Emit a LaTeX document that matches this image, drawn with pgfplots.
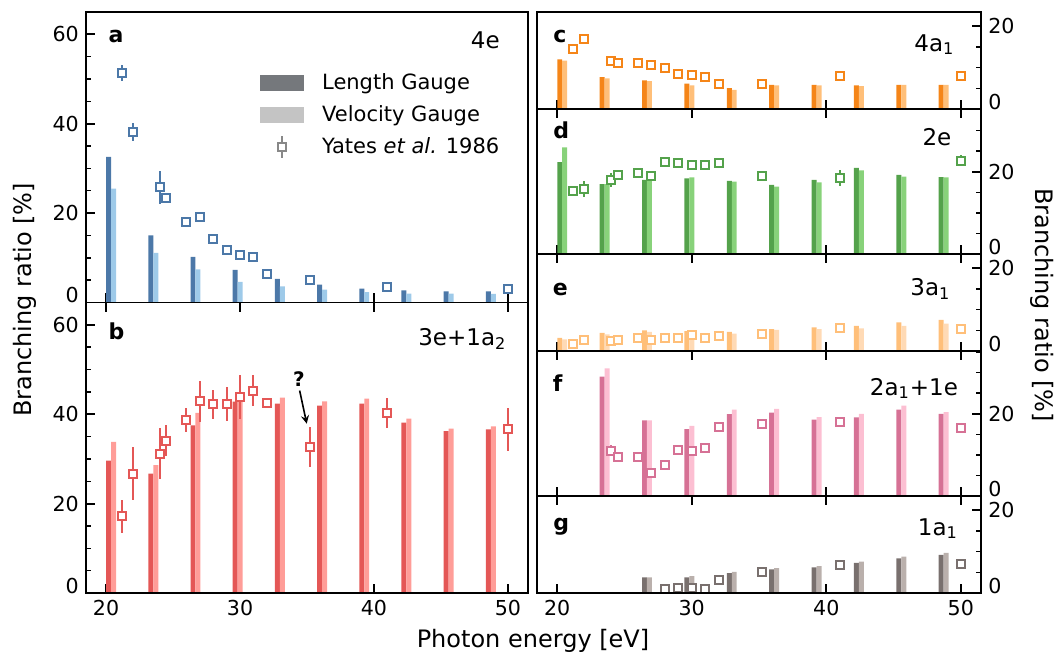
\documentclass[border=0pt]{standalone}
\usepackage{fontspec}
\setmainfont{DejaVu Sans}
\usepackage{pgfplots}
\usepackage{pgfplotstable}
\pgfplotsset{compat=1.18}
\definecolor{aD}{HTML}{4C78A8}\definecolor{aL}{HTML}{9ECAE9}
\definecolor{bD}{HTML}{E45756}\definecolor{bL}{HTML}{FF9D98}
\definecolor{cD}{HTML}{F58518}\definecolor{cL}{HTML}{FFBF79}
\definecolor{dD}{HTML}{54A24B}\definecolor{dL}{HTML}{88D27A}
\definecolor{eD}{HTML}{FFBF79}\definecolor{eL}{HTML}{FFDAB5}
\definecolor{fD}{HTML}{D67195}\definecolor{fL}{HTML}{FCBFD2}
\definecolor{gD}{HTML}{79706E}\definecolor{gL}{HTML}{BAB0AC}
\definecolor{lgD}{HTML}{75787C}\definecolor{lgL}{HTML}{C4C4C4}\definecolor{lgM}{HTML}{888888}

% Yates et al. 1986 data: x, y, error
\pgfplotstableread{
x y e
21.2 51.3 1.8
22 38.1 2.0
24 25.8 3.7
24.5 23.4 0.3
26 17.9 0.3
27 19.2 0.3
28 14.3 0.3
29 11.8 0.3
30 10.7 0.3
31 10.2 0.3
32 6.3 0.3
35.2 5.1 0.3
41 3.5 0.3
50 3.1 0.3
}\tA
\pgfplotstableread{
x y e
21.2 17.2 3.7
22 26.7 6.0
24 31.2 5.8
24.5 34.1 3.5
26 38.8 2.7
27 42.9 4.6
28 42.2 3.2
29 42.3 3.9
30 43.9 4.9
31 45.3 3.4
32 42.5 0.4
35.2 32.6 4.5
41 40.3 3.4
50 36.6 4.9
}\tB
\pgfplotstableread{
x y e
21.2 14.4 0.3
22 16.9 0.3
24 11.5 0.3
24.5 11.1 0.3
26 11.1 0.3
27 10.7 0.3
28 9.9 0.3
29 8.4 0.3
30 8.3 0.3
31 7.7 0.3
32 6.0 0.3
35.2 6.1 0.3
41 7.9 0.3
50 8.0 0.3
}\tC
\pgfplotstableread{
x y e
21.2 15.4 0.8
22 15.8 2.0
24 18.1 1.7
24.5 19.3 0.5
26 19.7 0.3
27 19.0 0.3
28 22.4 0.3
29 22.1 0.3
30 21.7 0.3
31 21.5 0.3
32 22.0 0.3
35.2 18.9 0.3
41 18.5 2.0
50 22.7 1.3
}\tD
\pgfplotstableread{
x y e
21.2 1.8 0.3
22 2.6 0.3
24 2.4 0.3
24.5 2.7 0.3
26 3.1 0.3
27 2.6 0.3
28 3.1 0.3
29 3.1 0.3
30 3.8 0.3
31 3.1 0.3
32 3.6 0.3
35.2 4.0 0.3
41 5.5 0.3
50 5.3 0.3
}\tE
\pgfplotstableread{
x y e
24 11.1 1.3
24.5 9.5 0.5
26 9.5 1.0
27 5.7 0.3
28 7.7 0.3
29 11.3 0.3
30 11.0 0.3
31 11.7 0.3
32 16.8 0.3
35.2 17.6 0.3
41 18.0 0.3
50 16.6 0.3
}\tF
\pgfplotstableread{
x y e
28 0.9 0.3
29 1.3 0.3
30 1.1 0.3
31 1.0 0.3
32 3.1 0.3
35.2 5.0 0.3
41 6.7 0.3
50 7.0 0.3
}\tG

\tikzset{
  plet/.style={anchor=base west, inner sep=0pt, font=\bfseries\fontsize{11}{13}\selectfont},
  ptit/.style={anchor=base east, inner sep=0pt, font=\fontsize{11.5}{13}\selectfont},
}
\pgfplotsset{
  panel/.style={scale only axis, anchor=south west, xmin=18.5, xmax=51.5, ymin=0, clip=false,
    xtick={20,30,40,50}, xticklabels={}, tick align=inside,
    axis line style={line width=0.9pt}, major tick length=4.5pt, minor tick length=2.5pt,
    major tick style={black, line width=0.9pt}, minor tick style={black, line width=0.7pt},
    tick label style={font=\fontsize{10.3}{12}\selectfont},
    /pgf/number format/assume math mode=true, xtick pos=both,
    extra y ticks={0}, extra y tick style={yticklabel style={yshift=3.6pt}}},
  leftp/.style={panel, width=221pt, height=145.25pt, ymax=65, ytick={20,40,60},
    minor ytick={5,10,15,25,30,35,45,50,55}, ytick pos=left},
  rightp/.style={panel, width=222pt, ytick={20}, minor ytick={5,10,15,25,30,35},
    ytick pos=right, yticklabel pos=right},
  shortp/.style={rightp, height=48.35pt, ymax=23.4},
  tallp/.style={rightp, height=72.7pt, ymax=35.2},
  bars/.style={ybar, bar width=0.37, bar shift=0pt, draw=none, fill=#1, forget plot},
  yterr/.style={forget plot, only marks, mark=none,
    error bars/.cd, y dir=both, y explicit, error mark=none,
    error bar style={draw=#1, line width=1pt}},
  ytm/.style={forget plot, only marks, mark=square*, mark size=2pt,
    mark options={fill=white, draw=#1, line width=1pt, solid}},
  minorx/.style={scale only axis, anchor=south west, xmin=18.5, xmax=51.5, ymin=0, ymax=1,
    axis x line*=bottom, axis y line=none, x axis line style={-, line width=0.9pt}, xtick=\empty,
    minor xtick={22,24,26,28,32,34,36,38,42,44,46,48}, tick align=inside,
    minor tick length=2.5pt, minor tick style={black, line width=0.7pt}},
  bottomlab/.style={xticklabels={20,30,40,50}, xticklabel pos=lower},
}
\newcommand\yates[2]{%
  \addplot[yterr=#2] table[x=x, y=y, y error=e] {#1};
  \addplot[ytm=#2] table[x=x, y=y] {#1};}
\begin{document}
\fontsize{10.3pt}{12pt}\selectfont
\begin{tikzpicture}
\path[use as bounding box] (0,0) rectangle (529.5pt,328.5pt);

% ---------------- panel a
\begin{axis}[leftp, at={(43pt,177.25pt)}, xtick pos=lower,
  legend style={draw=none, fill=none, at={(0.38,0.817)}, anchor=north west, row sep=2.5pt,
    font=\fontsize{10.5}{12}\selectfont, /tikz/every odd column/.style={column sep=7pt}},
  legend cell align=left]
\addlegendimage{legend image code/.code={\fill[lgD] (0pt,-3.75pt) rectangle (21.5pt,3.75pt);}}
\addlegendentry{Length Gauge}
\addlegendimage{legend image code/.code={\fill[lgL] (0pt,-3.75pt) rectangle (21.5pt,3.75pt);}}
\addlegendentry{Velocity Gauge}
\addlegendimage{legend image code/.code={\draw[lgM, line width=1pt] (10.75pt,-5.4pt) -- (10.75pt,5.4pt); \draw[lgM, line width=1pt, fill=white] (8.75pt,-2pt) rectangle (12.75pt,2pt);}}
\addlegendentry{Yates \textit{et al.} 1986}
\addplot[bars=aD] coordinates {(20.19,32.6) (23.34,15.0) (26.49,10.2) (29.64,7.3) (32.79,5.3) (35.94,4.0) (39.09,3.1) (42.24,2.7) (45.39,2.5) (48.54,2.5)};
\addplot[bars=aL] coordinates {(20.56,25.5) (23.71,11.1) (26.86,7.4) (30.01,4.6) (33.16,3.6) (36.31,2.9) (39.46,2.3) (42.61,2.0) (45.76,2.0) (48.91,1.9)};
\yates{\tA}{aD}
\node[plet] at (rel axis cs:0.05,0.894) {a};
\node[ptit] at (rel axis cs:0.937,0.875) {4e};
\end{axis}

% ---------------- panel b
\begin{axis}[leftp, at={(43pt,32pt)}, bottomlab]
\addplot[bars=bD] coordinates {(20.19,29.6) (23.34,26.7) (26.49,37.5) (29.64,42.8) (32.79,42.4) (35.94,41.9) (39.09,42.4) (42.24,38.1) (45.39,36.2) (48.54,36.6)};
\addplot[bars=bL] coordinates {(20.56,33.8) (23.71,28.6) (26.86,40.3) (30.01,43.2) (33.16,43.7) (36.31,42.9) (39.46,43.5) (42.61,39.0) (45.76,36.8) (48.91,37.3)};
\yates{\tB}{bD}
\node[plet] at (rel axis cs:0.05,0.872) {b};
\node[ptit] at (rel axis cs:0.952,0.852) {3e+1a\textsubscript{2}};
\node[font=\bfseries\fontsize{10}{12}\selectfont] at (axis cs:34.4,47.9) {?};
\draw[-stealth, line width=0.8pt] (axis cs:34.45,45.3) -- (axis cs:34.98,37.9);
\end{axis}
\begin{axis}[minorx, width=221pt, height=145.25pt, at={(43pt,32pt)}]
\addplot[draw=none] coordinates {(20,0.5)};
\end{axis}

% ---------------- panel c
\begin{axis}[shortp, at={(268.5pt,274.05pt)}, xtick pos=lower]
\addplot[bars=cD] coordinates {(20.19,12.0) (23.34,7.7) (26.49,6.9) (29.64,6.1) (32.79,5.0) (35.94,5.8) (39.09,5.8) (42.24,5.7) (45.39,5.8) (48.54,5.8)};
\addplot[bars=cL] coordinates {(20.56,11.7) (23.71,7.4) (26.86,6.7) (30.01,5.7) (33.16,4.6) (36.31,5.7) (39.46,5.7) (42.61,5.5) (45.76,5.8) (48.91,5.8)};
\yates{\tC}{cD}
\node[plet] at (rel axis cs:0.036,0.687) {c};
\node[ptit] at (rel axis cs:0.941,0.597) {4a\textsubscript{1}};
\end{axis}

% ---------------- panel d
\begin{axis}[tallp, at={(268.5pt,201.35pt)}]
\addplot[bars=dD] coordinates {(20.19,22.3) (23.34,17.0) (26.49,18.0) (29.64,18.4) (32.79,17.8) (35.94,16.8) (39.09,18.0) (42.24,20.9) (45.39,19.2) (48.54,18.7)};
\addplot[bars=dL] coordinates {(20.56,25.9) (23.71,17.0) (26.86,17.9) (30.01,18.6) (33.16,17.6) (36.31,16.4) (39.46,17.4) (42.61,20.3) (45.76,18.8) (48.91,18.6)};
\yates{\tD}{dD}
\node[plet] at (rel axis cs:0.036,0.796) {d};
\node[ptit] at (rel axis cs:0.934,0.75) {2e};
\end{axis}

% ---------------- panel e
\begin{axis}[shortp, at={(268.5pt,153pt)}]
\addplot[bars=eD] coordinates {(20.19,3.2) (23.34,4.4) (26.49,5.0) (29.64,4.8) (32.79,4.6) (35.94,5.3) (39.09,5.7) (42.24,6.1) (45.39,6.9) (48.54,7.5)};
\addplot[bars=eL] coordinates {(20.56,2.8) (23.71,4.0) (26.86,4.6) (30.01,4.6) (33.16,4.2) (36.31,5.1) (39.46,5.3) (42.61,5.5) (45.76,6.1) (48.91,6.6)};
\yates{\tE}{eD}
\node[plet] at (rel axis cs:0.035,0.571) {e};
\node[ptit] at (rel axis cs:0.932,0.571) {3a\textsubscript{1}};
\end{axis}

% ---------------- panel f
\begin{axis}[tallp, at={(268.5pt,80.3pt)}]
\addplot[bars=fD] coordinates {(23.34,29.0) (26.49,18.4) (29.64,16.3) (32.79,19.9) (35.94,20.3) (39.09,18.6) (42.24,19.1) (45.39,21.0) (48.54,20.0)};
\addplot[bars=fL] coordinates {(23.71,31.0) (26.86,18.4) (30.01,17.1) (33.16,21.0) (36.31,21.2) (39.46,19.2) (42.61,20.0) (45.76,22.0) (48.91,20.4)};
\yates{\tF}{fD}
\node[plet] at (rel axis cs:0.035,0.721) {f};
\node[ptit] at (rel axis cs:0.949,0.697) {2a\textsubscript{1}+1e};
\end{axis}

% ---------------- panel g
\begin{axis}[shortp, at={(268.5pt,32pt)}, bottomlab]
\addplot[bars=gD] coordinates {(26.49,3.8) (29.64,3.8) (32.79,4.8) (35.94,5.7) (39.09,6.2) (42.24,7.3) (45.39,8.4) (48.54,9.2)};
\addplot[bars=gL] coordinates {(26.86,3.8) (30.01,4.1) (33.16,5.1) (36.31,6.0) (39.46,6.5) (42.61,7.6) (45.76,8.8) (48.91,9.7)};
\yates{\tG}{gD}
\node[plet] at (rel axis cs:0.036,0.65) {g};
\node[ptit] at (rel axis cs:0.949,0.598) {1a\textsubscript{1}};
\end{axis}
\begin{axis}[minorx, width=222pt, height=48.35pt, at={(268.5pt,32pt)}]
\addplot[draw=none] coordinates {(20,0.5)};
\end{axis}

% ---------------- labels
\node[rotate=90, font=\fontsize{12}{14}\selectfont] at (12.5pt,178.5pt) {Branching ratio [\%]};
\node[rotate=-90, font=\fontsize{12}{14}\selectfont] at (521pt,176pt) {Branching ratio [\%]};
\node[anchor=base, font=\fontsize{12}{14}\selectfont] at (266.5pt,4.5pt) {Photon energy [eV]};
\end{tikzpicture}
\end{document}
